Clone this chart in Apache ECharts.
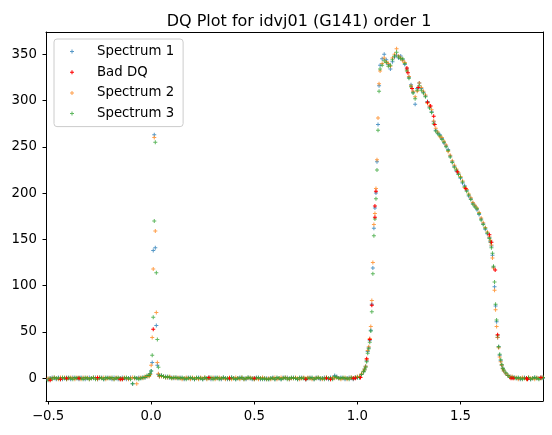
<!DOCTYPE html>
<html>
<head>
<meta charset="utf-8">
<script src="https://cdn.jsdelivr.net/npm/echarts@6/dist/echarts.min.js"></script>
<style>
  html, body { margin: 0; padding: 0; background: #fff; }
  #main { width: 552px; height: 435px; }
</style>
</head>
<body>
<div id="main"></div>
<script>
// wavelength grid shared by the three spectra
const xs = [
  -0.50,-0.49,-0.48,-0.47,-0.46,-0.45,-0.44,-0.43,-0.42,-0.41,-0.40,-0.39,-0.38,-0.37,-0.36,-0.35,-0.34,-0.33,-0.32,-0.31,
  -0.30,-0.29,-0.28,-0.27,-0.26,-0.25,-0.24,-0.23,-0.22,-0.21,-0.20,-0.19,-0.18,-0.17,-0.16,-0.15,-0.14,-0.13,-0.12,-0.11,
  -0.10,-0.09,-0.08,-0.07,-0.06,-0.05,-0.04,-0.03,-0.02,
  -0.01,-0.005,0,0.005,0.01,0.015,0.02,0.025,0.03,0.035,0.04,
  0.05,0.06,0.07,0.08,0.09,0.10,0.11,0.12,0.13,0.14,0.15,0.16,0.17,0.18,0.19,0.20,0.21,0.22,0.23,0.24,
  0.25,0.26,0.27,0.28,0.29,0.30,0.31,0.32,0.33,0.34,0.35,0.36,0.37,0.38,0.39,0.40,0.41,0.42,0.43,0.44,
  0.45,0.46,0.47,0.48,0.49,0.50,0.51,0.52,0.53,0.54,0.55,0.56,0.57,0.58,0.59,0.60,0.61,0.62,0.63,0.64,
  0.65,0.66,0.67,0.68,0.69,0.70,0.71,0.72,0.73,0.74,0.75,0.76,0.77,0.78,0.79,0.80,0.81,0.82,0.83,0.84,
  0.85,0.86,0.87,0.88,0.89,0.90,0.91,0.92,0.93,0.94,0.95,0.96,0.97,0.98,0.99,1.00,
  1.01,1.02,1.03,1.035,1.04,1.045,1.05,1.055,1.06,1.065,1.07,1.075,1.08,1.085,1.09,1.095,1.10,1.105,1.11,
  1.12,1.13,1.14,1.15,1.16,1.17,1.18,1.19,1.20,1.21,1.22,1.23,1.24,1.25,1.26,1.27,1.28,1.29,1.30,1.31,1.32,1.33,1.34,1.35,1.36,1.37,1.38,1.39,1.40,1.41,1.42,1.43,1.44,1.45,1.46,1.47,1.48,1.49,1.50,1.51,1.52,1.53,1.54,1.55,1.56,1.57,1.58,1.59,1.60,1.61,1.62,1.63,1.64,
  1.645,1.65,1.655,1.66,1.665,1.67,1.675,1.68,1.685,1.69,1.695,1.70,1.705,1.71,1.72,1.73,1.74,
  1.75,1.76,1.77,1.78,1.79,1.80,1.81,1.82,1.83,1.84,1.85,1.86,1.87,1.88,1.89,1.90
];

const spectrum1 = [
  -1,0,1,0,-1,1,0,-1,0,1, 0,-1,1,0,0,-1,1,0,-1,0, 1,0,0,1,-1,0,1,-1,0,1, 0,-1,1,0,-1,0,1,0,-1,0, 1,-6,0,0,1,0,1,1,2,
  3,5,8,17,138,263,141,57,14,4,2,
  3,2,2,1,1,1,0,1,0,1, 0,-1,0,1,0,0,-1,0,1,0, -1,0,0,1,-1,0,1,0,0,-1, 1,0,-1,0,1,0,-1,0,1,0,
  0,-1,1,0,-1,0,1,0,-1,0, -1,0,-1,0,1,-1,0,0,-1,1, 0,1,-1,0,1,0,-1,0,1,0, -1,0,1,0,-1,1,0,-1,0,1,
  0,-1,1,0,3,2,0,1,0,-1, 0,1,0,-1,1,1,
  1,4,7,10,13,19,29,33,41,52,80,119,162,184,200,234,274,316,338,
  345,350,344,339,334,342,347,349,346,348,344,339,334,325,317,309,296,313,319,313,309,305,299,293,288,277,268,265,263,259,254,251,247,240,234,229,224,221,216,211,208,203,197,194,189,186,182,177,172,167,161,156,152,
  148,143,133,120,99,78,61,44,34,25,19,14,11,8,5,3,2,
  1,1,0,0,-1,0,1,0,0,-1,0,1,0,0,1,0
];

const spectrum2 = [
  0,-1,0,1,0,-1,1,0,1,-1, 0,1,0,-1,1,0,-1,1,0,1, -1,0,1,0,-1,1,0,1,-1,0, 1,0,-1,1,0,-1,0,1,0,-1, 0,1,0,-6,0,1,0,2,2,
  2,4,14,44,118,260,159,71,17,5,2,
  2,2,1,1,2,0,1,0,1,0, -1,0,1,0,-1,1,0,0,-1,1, 0,1,-1,0,0,1,-1,0,1,0, 0,-1,0,1,-1,0,1,0,-1,1,
  -1,0,0,1,0,-1,0,-1,0,1, 0,-1,0,-1,0,1,-1,0,1,0, 1,0,-1,0,0,1,0,-1,0,1, 0,1,0,-1,0,0,1,0,-1,0,
  1,0,-1,1,0,1,0,-1,0,1, -1,0,1,0,1,2,
  2,5,8,10,13,20,30,34,43,56,84,125,166,178,205,236,281,318,332,
  340,346,342,340,337,346,350,356,348,346,343,341,333,326,316,310,304,310,319,314,310,306,297,294,290,278,270,266,261,260,256,252,245,241,235,230,226,222,218,213,206,204,199,195,190,187,184,179,173,168,163,158,153,
  149,144,130,119,95,74,56,44,33,23,18,14,10,8,5,3,2,
  2,0,1,-1,0,1,0,-1,1,0,0,-1,1,0,0,1
];

const spectrum3 = [
  -2,0,-1,1,0,0,-1,1,0,-1, 1,0,-1,1,0,1,0,-1,1,0, -1,0,1,-1,0,1,0,-1,1,0, 0,1,-1,0,1,0,-1,0,1,0, -1,-6,1,0,-1,0,1,1,3,
  3,5,8,25,66,170,255,114,42,12,3,
  3,2,1,2,1,0,1,1,0,0, 1,0,-1,0,1,0,-1,1,0,0, -1,1,0,0,1,-1,0,1,-1,0, 1,0,0,-1,1,0,-1,0,0,1,
  -1,0,1,0,0,-1,0,1,0,-1, 0,-1,-1,0,0,-1,1,0,-1,0, 1,-1,0,1,0,0,-1,1,0,0, -1,0,0,1,-1,0,1,0,0,-1,
  1,0,0,-1,2,1,0,0,1,0, 0,-1,1,0,1,1,
  1,4,7,9,12,18,27,32,39,51,72,113,154,172,194,225,268,310,334,
  338,343,341,337,338,344,348,352,347,345,345,340,332,324,315,308,302,311,316,311,308,304,298,292,287,275,267,264,262,258,255,250,246,239,233,228,225,220,217,212,207,202,198,193,188,185,183,178,171,166,162,157,151,
  147,141,135,121,104,80,63,46,34,26,20,15,11,9,6,3,1,
  1,1,0,1,0,-1,0,0,1,-1,0,1,0,-1,0,1
];

// pixels flagged with bad data quality
const badX = [-0.49,-0.44,-0.41,-0.35,-0.26,-0.15,-0.14,0.01,0.28,0.38,0.50,0.75,0.85,0.87,0.98,0.99,1.015,1.045,1.06,1.07,1.085,1.085,1.09,1.24,1.245,1.265,1.295,1.34,1.355,1.37,1.375,1.485,1.525,1.64,1.65,1.668,1.68,1.745,1.755,1.82,1.825,1.89];
const badY = [-2,-1,0,0,1,-1,-1,53,1,0,0,-1,0,-1,0,0,1,21,42,79,186,174,202,335,330,313,314,298,294,283,274,223,205,155,147,117,47,0,0,0,-1,1];

const xTicks = [-0.5, 0, 0.5, 1.0, 1.5];
const yTicks = [0, 50, 100, 150, 200, 250, 300, 350];

// thin "+" marker like matplotlib's
const plus = 'path://M1.5,0h1v1.5h1.5v1h-1.5v1.5h-1v-1.5h-1.5v-1h1.5z';
const font = 'DejaVu Sans';

function pairs(x, y) {
  return y.map((v, i) => [x[i], v]);
}

const chart = echarts.init(document.getElementById('main'));

const config = {
  animation: false,
  textStyle: { fontFamily: font },
  title: {
    text: 'DQ Plot for idvj01 (G141) order 1',
    left: 294,
    top: 9,
    textAlign: 'center',
    textStyle: { fontFamily: font, fontSize: 16, fontWeight: 'normal', color: '#000' }
  },
  legend: {
    orient: 'vertical',
    left: 54,
    top: 39,
    padding: [5.5, 9, 6, 16],
    itemGap: 6.7,
    itemWidth: 4,
    itemHeight: 4,
    backgroundColor: 'rgba(255,255,255,0.8)',
    borderColor: '#cccccc',
    borderWidth: 1,
    borderRadius: 3,
    textStyle: { fontFamily: font, fontSize: 13.3, color: '#000', lineHeight: 14, padding: [0, 0, 0, 18] },
    data: [
      { name: 'Spectrum 1', icon: plus },
      { name: 'Bad DQ', icon: plus },
      { name: 'Spectrum 2', icon: plus },
      { name: 'Spectrum 3', icon: plus }
    ]
  },
  grid: { left: 46, right: 9, top: 32, bottom: 34, containLabel: false },
  xAxis: [
    {
      type: 'value', min: -0.51, max: 1.9, position: 'bottom',
      axisLine: { onZero: false, lineStyle: { color: '#000', width: 1 } },
      axisTick: { customValues: xTicks, length: 3.5, lineStyle: { color: '#000' } },
      axisLabel: {
        customValues: xTicks, margin: 9, color: '#000', fontSize: 13.3, fontFamily: font,
        formatter: v => (v < 0 ? '\u2212' : '') + Math.abs(v).toFixed(1)
      },
      splitLine: { show: false }
    },
    {
      type: 'value', min: -0.51, max: 1.9, position: 'top',
      axisLine: { onZero: false, lineStyle: { color: '#000', width: 1 } },
      axisTick: { show: false }, axisLabel: { show: false }, splitLine: { show: false }
    }
  ],
  yAxis: [
    {
      type: 'value', min: -24.5, max: 374, position: 'left',
      axisLine: { show: true, onZero: false, lineStyle: { color: '#000', width: 1 } },
      axisTick: { show: true, customValues: yTicks, length: 3.5, lineStyle: { color: '#000' } },
      axisLabel: { customValues: yTicks, margin: 9, color: '#000', fontSize: 13.3, fontFamily: font },
      splitLine: { show: false }
    },
    {
      type: 'value', min: -24.5, max: 374, position: 'right',
      axisLine: { show: true, onZero: false, lineStyle: { color: '#000', width: 1 } },
      axisTick: { show: false }, axisLabel: { show: false }, splitLine: { show: false }
    }
  ],
  series: [
    {
      name: 'Spectrum 1', type: 'scatter', symbol: plus, symbolSize: 4, z: 2,
      itemStyle: { color: '#1f77b4', opacity: 0.75 },
      data: pairs(xs, spectrum1)
    },
    {
      name: 'Bad DQ', type: 'scatter', symbol: plus, symbolSize: 4, z: 5,
      itemStyle: { color: '#ff0000', opacity: 1 },
      data: pairs(badX, badY)
    },
    {
      name: 'Spectrum 2', type: 'scatter', symbol: plus, symbolSize: 4, z: 3,
      itemStyle: { color: '#ff7f0e', opacity: 0.75 },
      data: pairs(xs, spectrum2)
    },
    {
      name: 'Spectrum 3', type: 'scatter', symbol: plus, symbolSize: 4, z: 4,
      itemStyle: { color: '#2ca02c', opacity: 0.75 },
      data: pairs(xs, spectrum3)
    }
  ]
};

chart.setOption(config);
</script>
</body>
</html>
